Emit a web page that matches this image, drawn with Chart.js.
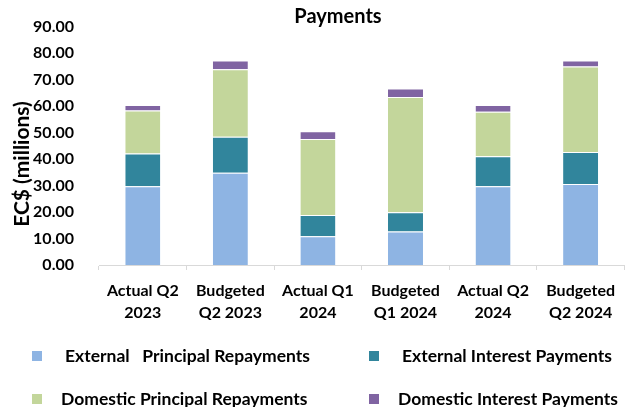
<!DOCTYPE html>
<html>
<head>
<meta charset="utf-8">
<script src="https://cdn.jsdelivr.net/npm/chart.js@4"></script>
<style>
  body { margin: 0; background: #fff; }
  #wrap { width: 625px; height: 407px; }
</style>
</head>
<body>
<div id="wrap"><canvas id="payments" width="625" height="407"></canvas></div>
<script>
// categories (two-line labels)
const categories = [
  ["Actual Q2", "2023"],
  ["Budgeted", "Q2 2023"],
  ["Actual Q1", "2024"],
  ["Budgeted", "Q1 2024"],
  ["Actual Q2", "2024"],
  ["Budgeted", "Q2 2024"],
];

// EC$ millions
const extPrincipal = [29.7, 34.8, 10.9, 12.6, 29.7, 30.6];
const extInterest = [12.4, 13.6, 8.0, 7.3, 11.4, 12.1];
const domPrincipal = [16.2, 25.5, 28.7, 43.5, 16.8, 32.2];
const domInterest = [2.1, 3.3, 2.9, 3.2, 2.5, 2.3];

const seriesNames = [
  "External   Principal Repayments",
  "External Interest Payments",
  "Domestic Principal Repayments",
  "Domestic Interest Payments",
];
const colors = ["#8EB4E3", "#31859C", "#C3D69B", "#8064A2"];

const FONT = "Lato, 'Open Sans', sans-serif";

// title, y-axis title and 2x2 legend drawn on the canvas
const extras = {
  id: "extras",
  afterDraw(chart) {
    const ctx = chart.ctx;
    ctx.save();
    ctx.fillStyle = "#000";
    ctx.font = "bold 20px " + FONT;
    ctx.textAlign = "center";
    ctx.textBaseline = "middle";
    ctx.fillText("Payments", 338, 17);

    ctx.translate(22, 164);
    ctx.rotate(-Math.PI / 2);
    ctx.font = "bold 21px " + FONT;
    ctx.fillText("EC$ (millions)", 0, 0);
    ctx.restore();

    // legend
    const boxX = [32, 369];
    const textX = [65, 402, 61, 398];
    const rowY = [356, 399];
    ctx.save();
    ctx.font = "bold 17.5px " + FONT;
    ctx.textBaseline = "middle";
    ctx.textAlign = "left";
    chart.data.datasets.forEach((ds, i) => {
      const col = i % 2, row = Math.floor(i / 2);
      ctx.fillStyle = ds.backgroundColor;
      ctx.fillRect(boxX[col], rowY[row] - 5, 10, 10);
      ctx.fillStyle = "#000";
      ctx.fillText(ds.label, textX[i], rowY[row]);
    });
    ctx.restore();
  },
};

const datasets = [extPrincipal, extInterest, domPrincipal, domInterest].map((vals, i) => ({
  label: seriesNames[i],
  data: vals,
  backgroundColor: colors[i],
  borderColor: "rgba(255,255,255,0.5)",
  borderWidth: { top: 1, bottom: 0, left: 0, right: 0 },
  borderSkipped: false,
  barPercentage: 0.4,
  categoryPercentage: 1.0,
}));

new Chart(document.getElementById("payments"), {
  type: "bar",
  data: { labels: categories, datasets: datasets },
  plugins: [extras],
  options: {
    responsive: false,
    animation: false,
    layout: { padding: { top: 19, right: 0, bottom: 82, left: 0 } },
    plugins: {
      legend: { display: false },
      title: { display: false },
      tooltip: { enabled: false },
    },
    scales: {
      x: {
        stacked: true,
        grid: { display: true, drawOnChartArea: false, tickLength: 5, color: "#d9d9d9" },
        border: { display: true, color: "#d9d9d9" },
        ticks: {
          color: "#000",
          font: { family: FONT, size: 16, weight: "bold", lineHeight: 1.35 },
          padding: 10,
          maxRotation: 0,
          autoSkip: false,
        },
        afterFit: (s) => { s.height = 60; },
      },
      y: {
        stacked: true,
        min: 0,
        max: 90,
        grid: { display: false },
        border: { display: false },
        ticks: {
          stepSize: 10,
          color: "#000",
          padding: 17,
          font: { family: FONT, size: 16, weight: "bold" },
          callback: (v) => v.toFixed(2),
        },
        afterFit: (s) => { s.width = 99; },
      },
    },
  },
});
</script>
</body>
</html>
